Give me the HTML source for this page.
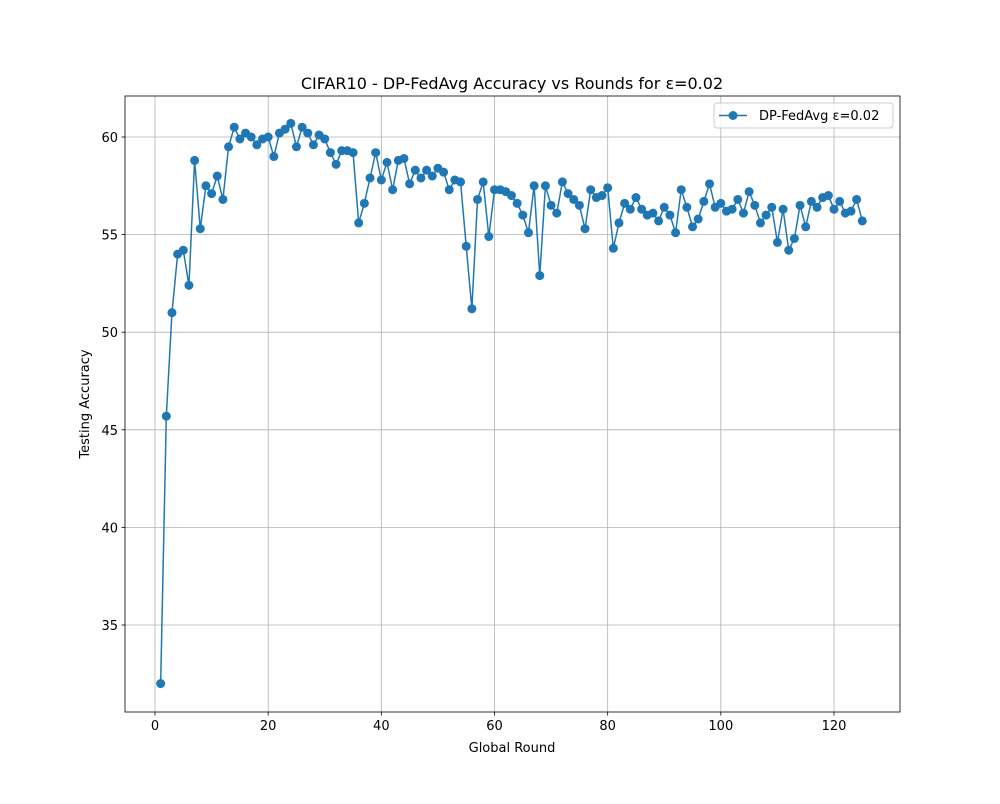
<!DOCTYPE html>
<html><head><meta charset="utf-8"><style>
body{margin:0;background:#fff;font-family:"DejaVu Sans","Liberation Sans",sans-serif}
svg text{font-family:"DejaVu Sans","Liberation Sans",sans-serif;fill:#000}
</style></head><body>
<svg id="chart" width="1000" height="800"></svg>
<script>
const rounds = Array.from({length:125},(_,i)=>i+1);
const accuracy = [32.0,45.7,51.0,54.0,54.2,52.4,58.8,55.3,57.5,57.1,58.0,56.8,59.5,60.5,59.9,60.2,60.0,59.6,59.9,60.0,
59.0,60.2,60.4,60.7,59.5,60.5,60.2,59.6,60.1,59.9,59.2,58.6,59.3,59.3,59.2,55.6,56.6,57.9,59.2,57.8,
58.7,57.3,58.8,58.9,57.6,58.3,57.9,58.3,58.0,58.4,58.2,57.3,57.8,57.7,54.4,51.2,56.8,57.7,54.9,57.3,
57.3,57.2,57.0,56.6,56.0,55.1,57.5,52.9,57.5,56.5,56.1,57.7,57.1,56.8,56.5,55.3,57.3,56.9,57.0,57.4,
54.3,55.6,56.6,56.3,56.9,56.3,56.0,56.1,55.7,56.4,56.0,55.1,57.3,56.4,55.4,55.8,56.7,57.6,56.4,56.6,
56.2,56.3,56.8,56.1,57.2,56.5,55.6,56.0,56.4,54.6,56.3,54.2,54.8,56.5,55.4,56.7,56.4,56.9,57.0,56.3,
56.7,56.1,56.2,56.8,55.7];
const xTicks = [0,20,40,60,80,100,120];
const yTicks = [35,40,45,50,55,60];
const L=125,R=900,T=96,B=712;
const xs=v=>155+(v-0)*(834-155)/120;
const ys=v=>137+(60-v)*(625-137)/25;
const NS='http://www.w3.org/2000/svg';
const svg=document.getElementById('chart');
function mk(t,a,p){const e=document.createElementNS(NS,t);for(const k in a)e.setAttribute(k,a[k]);(p||svg).appendChild(e);return e;}
// grid
xTicks.forEach(t=>{const g=mk('line',{x1:xs(t),x2:xs(t),y1:T,y2:B,stroke:'#b0b0b0','stroke-width':0.8});


const tk=mk('line',{x1:xs(t),x2:xs(t),y1:B,y2:B+3.5,stroke:'#000','stroke-width':0.8});


const tx=mk('text',{x:xs(t),y:B+18,'text-anchor':'middle','font-size':'13'});tx.textContent=t;

});
yTicks.forEach(t=>{const g=mk('line',{x1:L,x2:R,y1:ys(t),y2:ys(t),stroke:'#b0b0b0','stroke-width':0.8});


const tk=mk('line',{x1:L-3.5,x2:L,y1:ys(t),y2:ys(t),stroke:'#000','stroke-width':0.8});


const tx=mk('text',{x:L-7,y:ys(t)+5,'text-anchor':'end','font-size':'13'});tx.textContent=t;

});
// line
const pl=mk('polyline',{points:rounds.map((r,i)=>xs(r)+','+ys(accuracy[i])).join(' '),fill:'none',stroke:'#1f77b4','stroke-width':1.5});


rounds.forEach((r,i)=>{const c=mk('circle',{cx:xs(r),cy:ys(accuracy[i]),r:4.5,fill:'#1f77b4'});

});
// frame
const fr=mk('rect',{x:L,y:T,width:R-L,height:B-T,fill:'none',stroke:'#000','stroke-width':0.8});


// labels
const ti=mk('text',{x:512,y:89,'text-anchor':'middle','font-size':'16'});ti.textContent='CIFAR10 - DP-FedAvg Accuracy vs Rounds for ε=0.02';


const xl=mk('text',{x:512,y:752,'text-anchor':'middle','font-size':'13'});xl.textContent='Global Round';


const yl=mk('text',{x:89,y:404,'text-anchor':'middle','font-size':'13',transform:'rotate(-90 89 404)'});yl.textContent='Testing Accuracy';


// legend
const lg=mk('g',{});


mk('rect',{x:714,y:103,width:179,height:25,rx:3,fill:'#fff','fill-opacity':0.8,stroke:'#ccc'},lg);
mk('line',{x1:719,x2:747,y1:115.5,y2:115.5,stroke:'#1f77b4','stroke-width':1.5},lg);
mk('circle',{cx:733,cy:115.5,r:4.5,fill:'#1f77b4'},lg);
const lt=mk('text',{x:759,y:120,'font-size':'13'},lg);lt.textContent='DP-FedAvg ε=0.02';


</script>
</body></html>
